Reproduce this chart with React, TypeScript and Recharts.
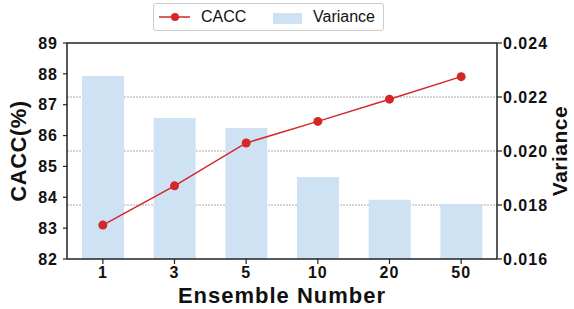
import React from 'react';
import { ComposedChart, Bar, Line, XAxis, YAxis, CartesianGrid, ReferenceLine } from 'recharts';

// values
const ensembleSizes = ['1', '3', '5', '10', '20', '50'];
const caccValues = [83.1, 84.37, 85.76, 86.46, 87.18, 87.91];
const varianceValues = [0.02278, 0.02122, 0.02085, 0.01904, 0.01819, 0.01804];
const caccTicks = [82, 83, 84, 85, 86, 87, 88, 89];
const varianceTicks = [0.016, 0.018, 0.02, 0.022, 0.024];

const RED = '#d62728';
const BLUE = '#cfe2f3';
const AXIS = '#222';
const FONT = '"Liberation Sans", Arial, sans-serif';

const data = ensembleSizes.map((name, i) => ({
  name,
  cacc: caccValues[i],
  variance: varianceValues[i],
}));

const tickStyle = { fontFamily: FONT, fontSize: 16, fontWeight: 700, fill: '#111', letterSpacing: 1 };
const labelStyle = { fontFamily: FONT, fontSize: 22, fontWeight: 700, fill: '#111', letterSpacing: 0.5 };

const ChartLegend: React.FC = () => (
  <div
    style={{
      position: 'absolute',
      left: 153,
      top: 3,
      width: 231,
      height: 28,
      border: '1px solid #ccc',
      borderRadius: 3,
      boxSizing: 'border-box',
      fontFamily: FONT,
      fontSize: 16,
      color: '#111',
    }}
  >
    <svg width={32} height={12} style={{ position: 'absolute', left: 5, top: 7 }}>
      <line x1={0} y1={6} x2={31} y2={6} stroke={RED} strokeWidth={1.5} />
      <circle cx={16} cy={6} r={4} fill={RED} />
    </svg>
    <span style={{ position: 'absolute', left: 47, top: 4 }}>CACC</span>
    <div style={{ position: 'absolute', left: 119, top: 9, width: 29, height: 11, background: BLUE }} />
    <span style={{ position: 'absolute', left: 159, top: 4 }}>Variance</span>
  </div>
);

export default function App() {
  return (
    <div style={{ position: 'absolute', left: 0, top: 0, width: 574, height: 309, background: '#fff' }}>
      <ComposedChart
        width={574}
        height={309}
        data={data}
        margin={{ top: 43, right: 0, bottom: 0, left: 0 }}
        barSize={42}
      >
        <CartesianGrid
          yAxisId="right"
          vertical={false}
          horizontalValues={[0.018, 0.02, 0.022]}
          stroke="#aaa"
          strokeDasharray="2 1"
        />
        <XAxis
          dataKey="name"
          height={50}
          tick={tickStyle}
          tickSize={5}
          tickMargin={3}
          axisLine={{ stroke: AXIS, strokeWidth: 1.5 }}
          tickLine={{ stroke: AXIS, strokeWidth: 1.2 }}
          label={{ value: 'Ensemble Number', position: 'insideBottom', offset: 6, style: { ...labelStyle, letterSpacing: 1 } }}
        />
        <YAxis
          yAxisId="left"
          orientation="left"
          width={67}
          domain={[82, 89]}
          ticks={caccTicks}
          allowDataOverflow
          tick={tickStyle}
          tickSize={4}
          tickMargin={5}
          axisLine={{ stroke: AXIS, strokeWidth: 1.5 }}
          tickLine={{ stroke: AXIS, strokeWidth: 1.2 }}
          label={{ value: 'CACC(%)', angle: -90, position: 'insideLeft', offset: 18, style: { ...labelStyle, textAnchor: 'middle' } }}
        />
        <YAxis
          yAxisId="right"
          orientation="right"
          width={77}
          domain={[0.016, 0.024]}
          ticks={varianceTicks}
          allowDataOverflow
          tickFormatter={(v: number) => v.toFixed(3)}
          tick={tickStyle}
          tickSize={5}
          tickMargin={1}
          axisLine={{ stroke: AXIS, strokeWidth: 1.5 }}
          tickLine={{ stroke: AXIS, strokeWidth: 1.2 }}
          label={{ value: 'Variance', angle: -90, position: 'insideRight', offset: 14, style: { ...labelStyle, fontSize: 21, textAnchor: 'middle' } }}
        />
        <ReferenceLine yAxisId="left" y={89} stroke={AXIS} strokeWidth={1.5} />
        <Bar yAxisId="right" dataKey="variance" fill={BLUE} isAnimationActive={false} />
        <Line
          yAxisId="left"
          dataKey="cacc"
          stroke={RED}
          strokeWidth={1.5}
          dot={{ r: 4.5, fill: RED, stroke: RED, strokeWidth: 0 }}
          isAnimationActive={false}
        />
      </ComposedChart>
      <ChartLegend />
    </div>
  );
}
